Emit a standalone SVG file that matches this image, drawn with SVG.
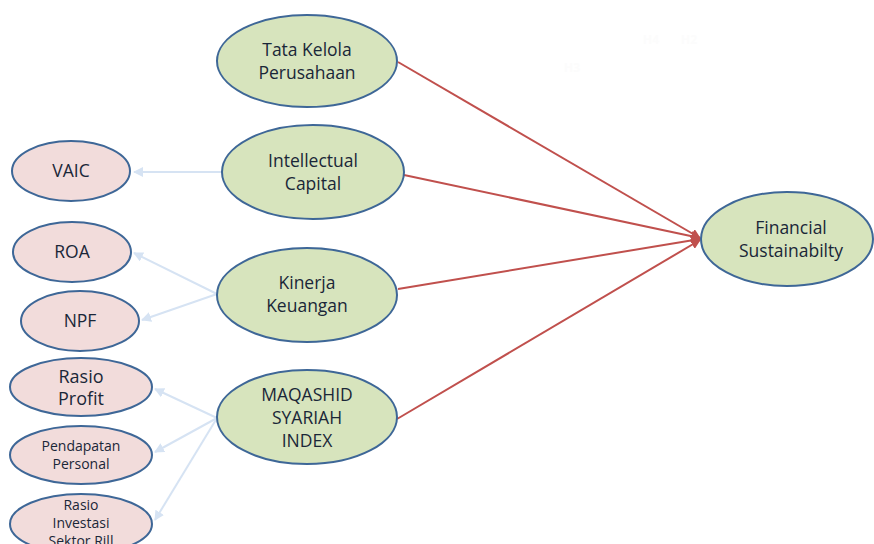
<svg xmlns="http://www.w3.org/2000/svg" width="874" height="544" viewBox="0 0 874 544">
  <style>
    .var ellipse { stroke: #3e6797; stroke-width: 2; }
    .main ellipse { fill: #d7e4bd; }
    .ind ellipse { fill: #f2dcdb; }
    text { font-family: "Open Sans", "Liberation Sans", sans-serif; fill: #1a2738; text-anchor: middle; }
    .big { font-size: 17.5px; }
    .mid { font-size: 18px; }
    .small { font-size: 14px; }
    .hyp { font-size: 12px; font-weight: bold; fill: #fcfcfc; }
    .rel { stroke: #c0504d; stroke-width: 2; fill: none; marker-end: url(#redArrow); }
    .ref { stroke: #d6e3f3; stroke-width: 2; fill: none; marker-end: url(#blueArrow); }
  </style>
  <defs>
    <marker id="redArrow" viewBox="0 0 10 10" refX="9" refY="5" markerWidth="5" markerHeight="5" orient="auto" markerUnits="strokeWidth">
      <path d="M0,0 L10,5 L0,10 z" fill="#c0504d"/>
    </marker>
    <marker id="blueArrow" viewBox="0 0 10 10" refX="9" refY="5" markerWidth="5" markerHeight="5" orient="auto" markerUnits="strokeWidth">
      <path d="M0,0 L10,5 L0,10 z" fill="#d6e3f3"/>
    </marker>
  </defs>

  <rect width="874" height="544" fill="#ffffff"/>

  <!-- hypothesis labels (white) -->
  <text class="hyp" x="651" y="44">H4</text>
  <text class="hyp" x="689" y="44">H2</text>
  <text class="hyp" x="572" y="72">H3</text>

  <!-- connectors -->
  <g id="connectors">
    <line class="rel" x1="398" y1="62" x2="700" y2="238"/>
    <line class="rel" x1="404" y1="175" x2="700" y2="238"/>
    <line class="rel" x1="398" y1="289" x2="700" y2="239"/>
    <line class="rel" x1="397" y1="419" x2="700" y2="240"/>

    <line class="ref" x1="222" y1="172" x2="134" y2="172"/>
    <line class="ref" x1="217" y1="294" x2="134" y2="253"/>
    <line class="ref" x1="217" y1="294" x2="142" y2="320"/>
    <line class="ref" x1="217" y1="418" x2="155" y2="389"/>
    <line class="ref" x1="217" y1="418" x2="155" y2="452"/>
    <line class="ref" x1="217" y1="418" x2="155" y2="520"/>
  </g>

  <!-- main constructs -->
  <g id="tata-kelola" class="var main">
    <ellipse cx="307" cy="61" rx="90" ry="46"/>
    <text class="big" x="307" y="56">Tata Kelola</text>
    <text class="big" x="307" y="79">Perusahaan</text>
  </g>
  <g id="intellectual-capital" class="var main">
    <ellipse cx="313" cy="172" rx="91" ry="47"/>
    <text class="big" x="313" y="167">Intellectual</text>
    <text class="big" x="313" y="190">Capital</text>
  </g>
  <g id="kinerja-keuangan" class="var main">
    <ellipse cx="307" cy="295" rx="90" ry="47"/>
    <text class="big" x="307" y="289">Kinerja</text>
    <text class="big" x="307" y="312">Keuangan</text>
  </g>
  <g id="maqashid" class="var main">
    <ellipse cx="307" cy="417" rx="90" ry="47"/>
    <text class="big" x="307" y="401">MAQASHID</text>
    <text class="big" x="307" y="424">SYARIAH</text>
    <text class="big" x="307" y="447">INDEX</text>
  </g>
  <g id="financial-sustainability" class="var main">
    <ellipse cx="787" cy="239" rx="86" ry="47"/>
    <text class="big" x="791" y="234">Financial</text>
    <text class="big" x="791" y="257">Sustainabilty</text>
  </g>

  <!-- indicators -->
  <g id="vaic" class="var ind">
    <ellipse cx="71" cy="171" rx="59" ry="30"/>
    <text class="big" x="71" y="177">VAIC</text>
  </g>
  <g id="roa" class="var ind">
    <ellipse cx="72" cy="252" rx="59" ry="30"/>
    <text class="big" x="72" y="258">ROA</text>
  </g>
  <g id="npf" class="var ind">
    <ellipse cx="80" cy="321" rx="59" ry="30"/>
    <text class="big" x="80" y="327">NPF</text>
  </g>
  <g id="rasio-profit" class="var ind">
    <ellipse cx="81" cy="387" rx="71" ry="29"/>
    <text class="mid" x="81" y="383">Rasio</text>
    <text class="mid" x="81" y="405">Profit</text>
  </g>
  <g id="pendapatan-personal" class="var ind">
    <ellipse cx="81" cy="455" rx="71" ry="29"/>
    <text class="small" x="81" y="451">Pendapatan</text>
    <text class="small" x="81" y="469">Personal</text>
  </g>
  <g id="rasio-investasi" class="var ind">
    <ellipse cx="81" cy="524" rx="71" ry="30"/>
    <text class="small" x="81" y="510">Rasio</text>
    <text class="small" x="81" y="528">Investasi</text>
    <text class="small" x="81" y="546">Sektor Rill</text>
  </g>
</svg>
